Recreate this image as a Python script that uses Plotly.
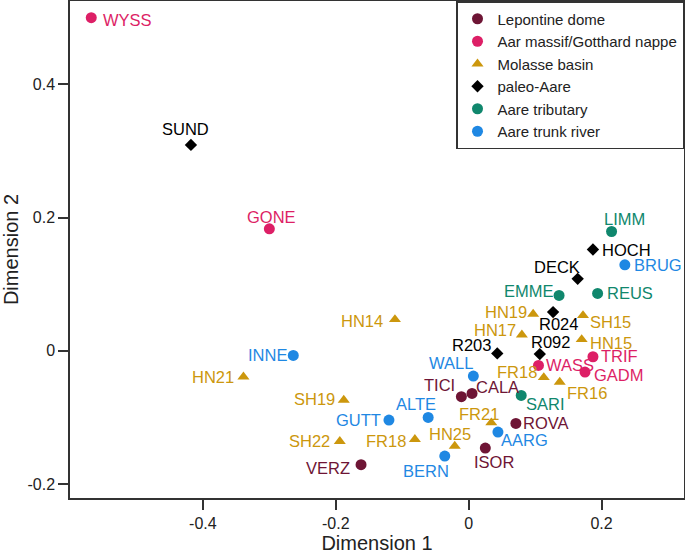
import plotly.graph_objects as go

# MDS coordinates, one set of lists per source group
lep_names = ["TICI", "CALA", "ROVA", "ISOR", "VERZ"]
lep_x = [-0.011, 0.005, 0.071, 0.025, -0.162]
lep_y = [-0.069, -0.064, -0.109, -0.146, -0.171]

aar_names = ["WYSS", "GONE", "WASS", "TRIF", "GADM"]
aar_x = [-0.568, -0.300, 0.105, 0.187, 0.175]
aar_y = [0.500, 0.183, -0.022, -0.009, -0.032]

mol_names = ["HN14", "HN21", "SH19", "SH22", "FR18", "HN25", "FR21",
             "FR18", "FR16", "HN17", "HN19", "SH15", "HN15"]
mol_x = [-0.111, -0.339, -0.188, -0.194, -0.081, -0.021, 0.034,
         0.113, 0.137, 0.080, 0.097, 0.172, 0.170]
mol_y = [0.047, -0.039, -0.074, -0.136, -0.133, -0.143, -0.108,
         -0.040, -0.047, 0.024, 0.055, 0.053, 0.017]

pal_names = ["SUND", "R203", "R092", "R024", "DECK", "HOCH"]
pal_x = [-0.418, 0.043, 0.107, 0.127, 0.164, 0.187]
pal_y = [0.309, -0.004, -0.005, 0.058, 0.108, 0.152]

trib_names = ["LIMM", "EMME", "REUS", "SARI"]
trib_x = [0.215, 0.136, 0.194, 0.079]
trib_y = [0.179, 0.083, 0.086, -0.067]

trunk_names = ["BRUG", "INNE", "WALL", "ALTE", "GUTT", "AARG", "BERN"]
trunk_x = [0.235, -0.264, 0.007, -0.061, -0.120, 0.044, -0.036]
trunk_y = [0.129, -0.007, -0.038, -0.100, -0.104, -0.122, -0.158]

# label offsets from the marker centre, in pixels (dx right, dy down)
lep_off = [(-22, -12), (25, -6), (30, 0), (9, 14), (-33, 3)]
aar_off = [(36, 2), (2, -12), (32, 0), (27, -1), (34, 3)]
mol_off = [(-33, 2), (-30, 0), (-29, -1), (-30, 0), (-29, 2), (-5, -12), (-12, -9),
           (-27, -5), (27, 11), (-27, -5), (-27, -2), (27, 7), (29, 4)]
pal_off = [(-5, -16), (-26, -8), (11, -12), (5, 12), (-21, -12), (34, 0)]
trib_off = [(13, -13), (-30, -4), (32, 0), (24, 9)]
trunk_off = [(33, 0), (-26, 0), (-22, -13), (-12, -13), (-30, 0), (27, 8), (-19, 15)]

groups = [
    ("Lepontine dome", lep_names, lep_x, lep_y, lep_off, "#6e1535", "circle", 11),
    ("Aar massif/Gotthard nappe", aar_names, aar_x, aar_y, aar_off, "#dd1f66", "circle", 11),
    ("Molasse basin", mol_names, mol_x, mol_y, mol_off, "#cc970d", "triangle-up", 10.5),
    ("paleo-Aare", pal_names, pal_x, pal_y, pal_off, "#000000", "diamond", 9.5),
    ("Aare tributary", trib_names, trib_x, trib_y, trib_off, "#10876d", "circle", 11),
    ("Aare trunk river", trunk_names, trunk_x, trunk_y, trunk_off, "#1f88e3", "circle", 11),
]

fig = go.Figure()
for label, names, xs, ys, offs, col, sym, size in groups:
    fig.add_trace(go.Scatter(
        x=xs, y=ys, mode="markers", name=label,
        marker=dict(color=col, symbol=sym, size=size),
    ))
    for name, xv, yv, (dx, dy) in zip(names, xs, ys, offs):
        fig.add_annotation(x=xv, y=yv, text=name, showarrow=False,
                           xshift=dx, yshift=-dy, xanchor="center", yanchor="middle",
                           font=dict(color=col, size=16.5))

axis_style = dict(
    showgrid=False, zeroline=False, showline=True, linecolor="#333333", linewidth=1.5,
    mirror=True, ticks="outside", ticklen=10, tickwidth=1.5, tickcolor="#333333",
    tickfont=dict(size=16, color="#222222"), automargin=False,
)

fig.update_layout(
    width=685, height=554,
    margin=dict(l=70, r=1, t=1, b=56),
    paper_bgcolor="white", plot_bgcolor="white",
    font=dict(family="Liberation Sans, Arial, sans-serif", size=16.5, color="#222222"),
    xaxis=dict(range=[-0.6, 0.324], tickvals=[-0.4, -0.2, 0, 0.2],
               ticktext=["-0.4", "-0.2", "0", "0.2"],
               title=dict(text="Dimension 1", standoff=14), **axis_style),
    yaxis=dict(range=[-0.221, 0.525], tickvals=[-0.2, 0, 0.2, 0.4],
               ticktext=["-0.2", "0", "0.2", "0.4"],
               title=dict(text="Dimension 2", standoff=12), **axis_style),
    legend=dict(x=1, xanchor="right", y=1, yanchor="top",
                bordercolor="#333333", borderwidth=1.5, bgcolor="white",
                font=dict(size=15, color="#222222"), itemwidth=30,
                tracegroupgap=0),
    showlegend=True,
)

fig.write_html("out.html", config={"displayModeBar": False},
               post_script="document.body.style.margin='0';")
